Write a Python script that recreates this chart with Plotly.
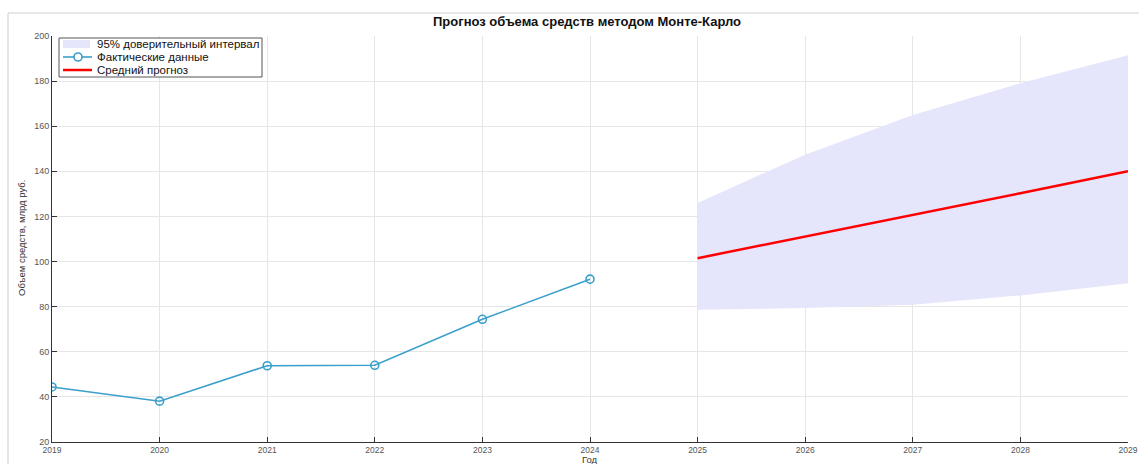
import plotly.graph_objects as go

# ---- data ----
years_actual = [2019, 2020, 2021, 2022, 2023, 2024]
actual_values = [44.4, 38.1, 53.8, 54.0, 74.4, 92.2]

years_forecast = [2025, 2026, 2027, 2028, 2029]
mean_forecast = [101.5, 111.0, 120.7, 130.3, 140.0]
upper_95 = [126.0, 147.4, 165.0, 179.0, 191.5]
lower_95 = [78.6, 79.4, 80.8, 85.0, 90.4]

x_ticks = list(range(2019, 2030))
y_ticks = list(range(20, 201, 20))

title_text = "Прогноз объема средств методом Монте-Карло"
x_title = "Год"
y_title = "Объем средств, млрд руб."
legend_labels = ["95% доверительный интервал", "Фактические данные", "Средний прогноз"]

FONT = "Liberation Sans, Arial, sans-serif"
BAND_COLOR = "rgb(229,229,251)"
ACTUAL_COLOR = "#3A9FCB"
MEAN_COLOR = "#FF0000"

# plot-area geometry in page pixels
PL, PR, PT, PB = 52, 1128, 36, 442
W, H = 1139, 464


def px(x):
    return (x - PL) / (PR - PL)


def py(y):
    return (PB - y) / (PB - PT)


fig = go.Figure()

fig.add_trace(go.Scatter(
    x=years_forecast + years_forecast[::-1],
    y=upper_95 + lower_95[::-1],
    fill="toself", fillcolor=BAND_COLOR,
    line=dict(width=0, color="rgba(0,0,0,0)"),
    mode="lines", name=legend_labels[0], hoverinfo="skip",
))

fig.add_trace(go.Scatter(
    x=years_actual, y=actual_values,
    mode="lines+markers",
    line=dict(color=ACTUAL_COLOR, width=1.6),
    marker=dict(symbol="circle-open", size=8, color=ACTUAL_COLOR, line=dict(width=1.6)),
    name=legend_labels[1],
))

fig.add_trace(go.Scatter(
    x=years_forecast, y=mean_forecast,
    mode="lines",
    line=dict(color=MEAN_COLOR, width=2.5),
    name=legend_labels[2],
))

# ---- compact legend box (MATLAB style) ----
legend_shapes = [
    dict(type="rect", xref="paper", yref="paper",
         x0=px(59), x1=px(262), y0=py(77), y1=py(38),
         line=dict(color="#555", width=1), fillcolor="white", layer="above"),
    dict(type="rect", xref="paper", yref="paper",
         x0=px(63), x1=px(90), y0=py(48), y1=py(40),
         line=dict(width=0), fillcolor=BAND_COLOR, layer="above"),
    dict(type="line", xref="paper", yref="paper",
         x0=px(63), x1=px(92), y0=py(57), y1=py(57),
         line=dict(color=ACTUAL_COLOR, width=1.6), layer="above"),
    dict(type="circle", xref="paper", yref="paper",
         x0=px(74), x1=px(82), y0=py(61), y1=py(53),
         line=dict(color=ACTUAL_COLOR, width=1.6), fillcolor="white", layer="above"),
    dict(type="line", xref="paper", yref="paper",
         x0=px(63), x1=px(92), y0=py(70), y1=py(70),
         line=dict(color=MEAN_COLOR, width=2.5), layer="above"),
]
legend_annotations = [
    dict(text=lab, xref="paper", yref="paper", x=px(95), y=py(yy),
         xanchor="left", yanchor="middle", showarrow=False,
         font=dict(size=11.5, color="#111", family=FONT))
    for lab, yy in zip(legend_labels, [44, 57, 70])
]

fig.update_layout(
    width=W, height=H,
    margin=dict(l=PL, r=W - PR, t=PT, b=H - PB, autoexpand=False),
    paper_bgcolor="white", plot_bgcolor="white",
    font=dict(family=FONT, size=9, color="#444"),
    showlegend=False,
    xaxis=dict(
        range=[2019, 2029], tickvals=x_ticks, automargin=False,
        showgrid=True, gridcolor="#e6e6e6", gridwidth=1,
        zeroline=False, showline=True, linecolor="#333", linewidth=1,
        ticks="inside", ticklen=5, tickcolor="#333",
        tickfont=dict(size=8.5, color="#555"), ticklabeloverflow="allow",
        fixedrange=True,
    ),
    yaxis=dict(
        range=[20, 200], tickvals=y_ticks, automargin=False,
        showgrid=True, gridcolor="#e6e6e6", gridwidth=1,
        zeroline=False, showline=True, linecolor="#333", linewidth=1,
        ticks="inside", ticklen=5, tickcolor="#333",
        tickfont=dict(size=9, color="#555"),
        fixedrange=True,
    ),
    annotations=[
        dict(text="<b>" + title_text + "</b>", xref="paper", yref="paper",
             x=px(587), y=py(22), xanchor="center", yanchor="middle",
             showarrow=False, font=dict(size=13, color="#111", family=FONT)),
        dict(text=x_title, xref="paper", yref="paper",
             x=px(590), y=py(459.5), xanchor="center", yanchor="middle",
             showarrow=False, font=dict(size=9.5, color="#333", family=FONT)),
        dict(text=y_title, xref="paper", yref="paper",
             x=px(22), y=py(238), xanchor="center", yanchor="middle",
             textangle=-90, showarrow=False,
             font=dict(size=9.5, color="#333", family=FONT)),
    ] + legend_annotations,
    shapes=[
        dict(type="rect", xref="paper", yref="paper",
             x0=px(8), x1=1.2, y0=-0.3, y1=py(13),
             line=dict(color="#cfcfcf", width=1), fillcolor="rgba(0,0,0,0)",
             layer="below"),
    ] + legend_shapes,
)

fig.write_html(
    "out.html",
    config={"displayModeBar": False},
    post_script="document.body.style.margin='0px';document.body.style.overflow='hidden';",
)
